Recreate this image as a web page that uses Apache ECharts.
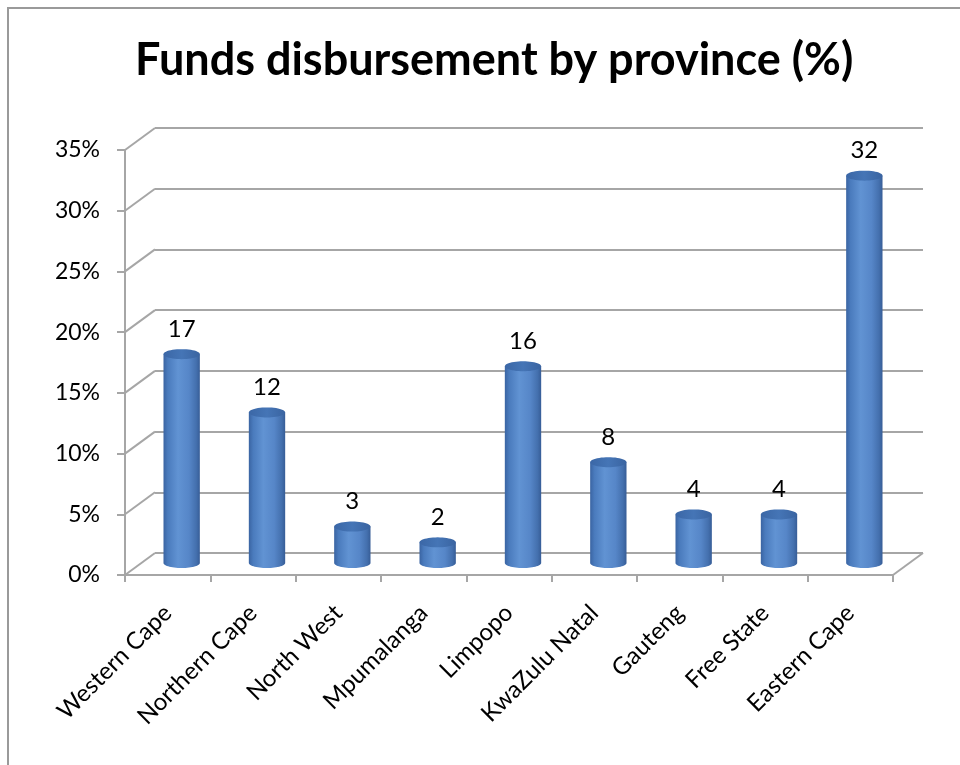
<!DOCTYPE html>
<html>
<head>
<meta charset="utf-8">
<script src="https://cdn.jsdelivr.net/npm/echarts@6/dist/echarts.min.js"></script>
<style>
html,body{margin:0;padding:0;background:#fff;}
#chart{width:960px;height:765px;}
</style>
</head>
<body>
<div id="chart"></div>
<script>
const categories = ['Western Cape','Northern Cape','North West','Mpumalanga','Limpopo','KwaZulu Natal','Gauteng','Free State','Eastern Cape'];
const values = [17.2, 12.4, 3.0, 1.7, 16.2, 8.3, 4.0, 4.0, 31.9];
const yTicks = [0, 5, 10, 15, 20, 25, 30, 35];
const titleText = 'Funds disbursement by province (%)';

const FONT = 'Lato, "Open Sans", sans-serif';
const GRID_COLOR = '#a6a6a6';
const WX = 30, WY = -22;          // depth offset of back wall
const BX = 14, BY = -12;          // bar position (mid depth)

const chart = echarts.init(document.getElementById('chart'));

function ellipsePts(cx, cy, rx, ry, t0, t1, n) {
  const pts = [];
  for (let k = 0; k <= n; k++) {
    const t = t0 + (t1 - t0) * k / n;
    pts.push([cx + rx * Math.cos(t), cy + ry * Math.sin(t)]);
  }
  return pts;
}

const option = {
  backgroundColor: '#fff',
  animation: false,
  title: {
    text: titleText,
    left: 130,
    top: 33,
    textStyle: { fontFamily: FONT, fontSize: 45, fontWeight: 'bold', color: '#000' }
  },
  graphic: [{
    type: 'rect',
    shape: { x: 8, y: 8, width: 1000, height: 820 },
    style: { fill: 'none', stroke: '#9a9a9a', lineWidth: 2 },
    silent: true, z: -10
  }],
  grid: [
    { left: 125, right: 67, top: 150, bottom: 190 },
    { left: 155, right: 37, top: 128, bottom: 212 }
  ],
  xAxis: [
    {
      type: 'category', gridIndex: 0, data: categories,
      axisLine: { show: true, lineStyle: { color: GRID_COLOR, width: 2 } },
      axisTick: { show: true, length: 7, lineStyle: { color: GRID_COLOR, width: 2 } },
      axisLabel: { rotate: 45, margin: 34, interval: 0, fontFamily: FONT, fontSize: 24, color: '#000' }
    },
    {
      type: 'category', gridIndex: 1, data: categories, show: false
    }
  ],
  yAxis: [
    {
      type: 'value', gridIndex: 0, min: 0, max: 35, interval: 5,
      axisLine: { show: true, lineStyle: { color: GRID_COLOR, width: 2 } },
      axisTick: { show: true, length: 8, lineStyle: { color: GRID_COLOR, width: 2 } },
      splitLine: { show: false },
      axisLabel: { formatter: '{value}%', margin: 25, fontFamily: FONT, fontSize: 23, color: '#000' }
    },
    {
      type: 'value', gridIndex: 1, min: 0, max: 35, interval: 5,
      axisLine: { show: false }, axisTick: { show: false }, axisLabel: { show: false },
      splitLine: { show: true, lineStyle: { color: GRID_COLOR, width: 2 } }
    }
  ],
  series: [
    {
      type: 'custom', name: 'wall', xAxisIndex: 0, yAxisIndex: 0, z: 1, silent: true,
      data: yTicks.map(v => [0, v]),
      encode: { x: 0, y: 1 },
      renderItem: function (params, api) {
        const cs = params.coordSys;
        const v = api.value(1);
        const y = api.coord([0, v])[1];
        const children = [{
          type: 'line',
          shape: { x1: cs.x, y1: y, x2: cs.x + WX, y2: y + WY },
          style: { stroke: GRID_COLOR, lineWidth: 2 }
        }];
        if (v === 0) {
          children.push({
            type: 'line',
            shape: { x1: cs.x + cs.width, y1: y, x2: cs.x + cs.width + WX, y2: y + WY },
            style: { stroke: GRID_COLOR, lineWidth: 2 }
          });
        }
        return { type: 'group', children: children };
      }
    },
    {
      type: 'custom', name: 'Funds', xAxisIndex: 0, yAxisIndex: 0, z: 3,
      data: values.map((v, i) => [i, v]),
      encode: { x: 0, y: 1 },
      renderItem: function (params, api) {
        const i = api.value(0), v = api.value(1);
        const top = api.coord([i, v]);
        const base = api.coord([i, 0]);
        const bw = api.size([1, 0])[0];
        const rx = bw * 0.213, ry = 5;
        const cx = top[0] + BX, yt = top[1] + BY, yb = base[1] + BY;
        const body = [[cx - rx, yt]].concat(ellipsePts(cx, yb, rx, ry, Math.PI, 0, 30)).concat([[cx + rx, yt]]);
        const cap = ellipsePts(cx, yt, rx, ry, 0, Math.PI * 2, 48);
        return {
          type: 'group',
          children: [
            {
              type: 'polygon', shape: { points: body },
              style: {
                fill: new echarts.graphic.LinearGradient(0, 0, 1, 0, [
                  { offset: 0, color: '#3a64a2' },
                  { offset: 0.12, color: '#4a7bbd' },
                  { offset: 0.4, color: '#6193d3' },
                  { offset: 0.7, color: '#5686c8' },
                  { offset: 0.9, color: '#4470ae' },
                  { offset: 1, color: '#375d97' }
                ])
              }
            },
            {
              type: 'polygon', shape: { points: cap },
              style: {
                fill: new echarts.graphic.LinearGradient(0, 0, 1, 0, [
                  { offset: 0, color: '#3b67a6' },
                  { offset: 0.5, color: '#4575b6' },
                  { offset: 1, color: '#3a64a1' }
                ])
              }
            },
            {
              type: 'text',
              style: {
                text: String(Math.round(v)), x: cx, y: yt - ry - 8,
                align: 'center', verticalAlign: 'bottom',
                fontFamily: FONT, fontSize: 24, fill: '#000'
              }
            }
          ]
        };
      }
    }
  ]
};
chart.setOption(option);
</script>
</body>
</html>
